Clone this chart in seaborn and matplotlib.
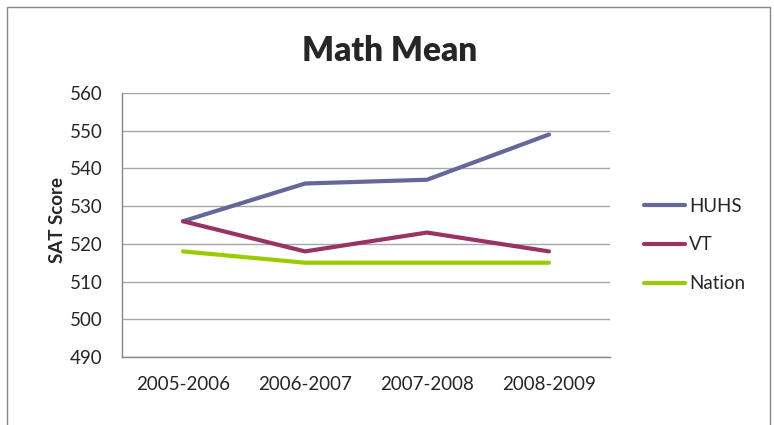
import pandas as pd
import matplotlib.pyplot as plt
import seaborn as sns
from matplotlib.patches import Rectangle

years = ['2005-2006', '2006-2007', '2007-2008', '2008-2009']
huhs = [526, 536, 537, 549]
vt = [526, 518, 523, 518]
nation = [518, 515, 515, 515]
yticks = [490, 500, 510, 520, 530, 540, 550, 560]

sns.set_theme(style='white')
plt.rcParams['font.family'] = ['Lato', 'DejaVu Sans']

df = pd.DataFrame({
    'year': years * 3,
    'score': huhs + vt + nation,
    'group': ['HUHS'] * 4 + ['VT'] * 4 + ['Nation'] * 4,
})
df['pos'] = [0, 1, 2, 3] * 3

palette = {'HUHS': '#666699', 'VT': '#993366', 'Nation': '#99CC00'}

fig = plt.figure(figsize=(7.74, 4.25), dpi=100)
ax = fig.add_axes([122 / 774, 1 - 357 / 425, (610 - 122) / 774, (357 - 93) / 425])

sns.lineplot(data=df, x='pos', y='score', hue='group', palette=palette,
             linewidth=3, ax=ax, legend=False, zorder=3)

ax.set_xlim(-0.5, 3.5)
ax.set_ylim(490, 560)
ax.set_yticks(yticks)
ax.set_yticklabels([str(t) for t in yticks], fontsize=13.5)
ax.set_xticks(range(4))
ax.set_xticklabels(years, fontsize=13.5)
ax.tick_params(axis='y', length=0, pad=14)
ax.tick_params(axis='x', length=0, pad=14)
ax.yaxis.grid(True, color='#a6a6a6', linewidth=1)
ax.set_axisbelow(True)
for s in ['top', 'right']:
    ax.spines[s].set_visible(False)
for s in ['left', 'bottom']:
    ax.spines[s].set_color('#888888')
    ax.spines[s].set_linewidth(1)
ax.set_xlabel('')
ax.set_ylabel('SAT Score', fontsize=13.5, fontweight='bold')
ax.yaxis.set_label_coords(-0.115, 0.52)

fig.text(0.504, 1 - 51 / 425, 'Math Mean', ha='center', va='center',
         fontsize=24, fontweight='heavy')

# legend
handles = [plt.Line2D([], [], color=palette[g], linewidth=3) for g in ['HUHS', 'VT', 'Nation']]
fig.legend(handles, ['HUHS', 'VT', 'Nation'], loc='center left',
           bbox_to_anchor=(627 / 774, 1 - 245 / 425), frameon=False,
           fontsize=13.5, handlelength=2.2, handletextpad=0.2, labelspacing=1.15)

fig.patches.append(Rectangle((7 / 774, -0.05), (770 - 7) / 774, 1.05 - 7 / 425,
                             transform=fig.transFigure, fill=False,
                             edgecolor='#888888', linewidth=1))

fig.savefig('out.png', dpi=100)
